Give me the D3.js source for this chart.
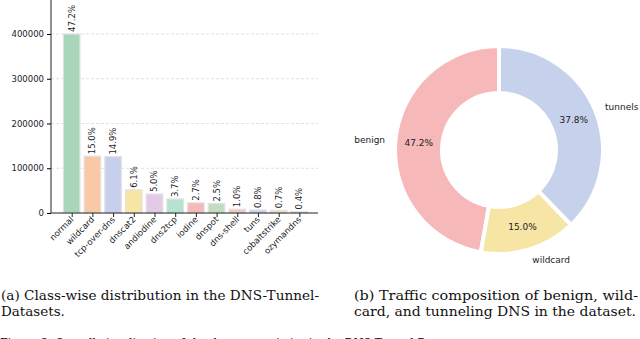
<!DOCTYPE html>
<html>
<head>
<meta charset="utf-8">
<script src="https://cdn.jsdelivr.net/npm/d3@7"></script>
<style>
  body { margin: 0; background: #fff; }
  svg { display: block; }
  .tick text { font-family: "DejaVu Sans", sans-serif; font-size: 8.5px; fill: #222; }
</style>
</head>
<body>
<svg id="chart" width="640" height="339"></svg>
<script>
// bar chart data
const classes = ["normal", "wildcard", "tcp-over-dns", "dnscat2", "andiodine", "dns2tcp",
                 "iodine", "dnspot", "dns-shell", "tuns", "cobaltstrike", "ozymandns"];
const counts = [400000, 127000, 126000, 51700, 42400, 31300, 22900, 21200, 8500, 6800, 5900, 3400];
const shares = ["47.2%", "15.0%", "14.9%", "6.1%", "5.0%", "3.7%", "2.7%", "2.5%", "1.0%", "0.8%", "0.7%", "0.4%"];
const barColors = ["#a9d6bb", "#f9c8a5", "#c6d0ec", "#f7e5a3", "#e3cbe8", "#b5e3d2",
                   "#f6b9b9", "#c1dcc1", "#f6c6c6", "#c6d0ec", "#f0e2b6", "#d8d8d8"];
const yTicks = [0, 100000, 200000, 300000, 400000];

// donut data
const groups = ["benign", "wildcard", "tunnels"];
const groupShares = [47.2, 15.0, 37.8];
const groupColors = ["#f6b8b8", "#f7e5a5", "#c6d1ec"];

const svg = d3.select("#chart");

// ---- (a) bar chart ----
const plotLeft = 51, plotRight = 318, plotTop = 0, plotBottom = 213;

const xScale = d3.scaleLinear().domain([-1, 11.9]).range([plotLeft, plotRight]);
const yScale = d3.scaleLinear().domain([0, 476000]).range([plotBottom, plotTop]);
const barW = xScale(0.8) - xScale(0);

const barChart = svg.append("g");

// grid
barChart.selectAll("line.grid")
    .data(yTicks.slice(1))
    .join("line")
    .attr("class", "grid")
    .attr("x1", plotLeft).attr("x2", plotRight)
    .attr("y1", d => yScale(d)).attr("y2", d => yScale(d))
    .attr("stroke", "#d9d9d9")
    .attr("stroke-width", 0.8)
    .attr("stroke-dasharray", "3,2");

barChart.selectAll("rect")
    .data(counts)
    .join("rect")
    .attr("x", (d, i) => xScale(i) - barW / 2)
    .attr("y", d => yScale(d))
    .attr("width", barW)
    .attr("height", d => plotBottom - yScale(d))
    .attr("fill", (d, i) => barColors[i])
    .attr("stroke", "#e2e2e2")
    .attr("stroke-width", 1.2);

barChart.selectAll("text.pct")
    .data(counts)
    .join("text")
    .attr("class", "pct")
    .attr("transform", (d, i) => `translate(${xScale(i) + 3},${yScale(d) - 2}) rotate(-90)`)
    .attr("font-family", "DejaVu Sans, sans-serif")
    .attr("font-size", 8.5)
    .attr("fill", "#222")
    .text((d, i) => shares[i]);

const leftAxis = d3.axisLeft(yScale).tickValues(yTicks).tickFormat(d3.format("d")).tickSize(4).tickPadding(3);
barChart.append("g")
    .attr("transform", `translate(${plotLeft},0)`)
    .call(leftAxis)
    .call(g => g.select(".domain").attr("stroke", "#222").attr("d", `M0,${plotTop}V${plotBottom}`));

const bottomAxis = d3.axisBottom(xScale).tickValues(d3.range(classes.length))
    .tickFormat(i => classes[i]).tickSize(4);
barChart.append("g")
    .attr("transform", `translate(0,${plotBottom})`)
    .call(bottomAxis)
    .call(g => g.select(".domain").attr("stroke", "#222").attr("d", `M${plotLeft},0H${plotRight}`))
    .call(g => g.selectAll(".tick line").attr("stroke", "#222"))
    .call(g => g.selectAll(".tick text")
        .attr("text-anchor", "end")
        .attr("dy", null)
        .attr("transform", "translate(2,7) rotate(-45)")
        .attr("y", 0).attr("x", 0));

// ---- (b) donut ----
const cx = 499, cy = 150, outerR = 104, innerR = 57;

const pie = d3.pie().sort(null).startAngle(0).endAngle(-2 * Math.PI);
const arcs = pie(groupShares);
const arc = d3.arc().innerRadius(innerR).outerRadius(outerR);
const pctArc = d3.arc().innerRadius(outerR * 0.775).outerRadius(outerR * 0.775);

const donut = svg.append("g").attr("transform", `translate(${cx},${cy})`);

donut.selectAll("path")
    .data(arcs)
    .join("path")
    .attr("d", arc)
    .attr("fill", (d, i) => groupColors[i])
    .attr("stroke", "#fff")
    .attr("stroke-width", 4)
    .attr("stroke-linejoin", "miter");

donut.selectAll("text.pct")
    .data(arcs)
    .join("text")
    .attr("class", "pct")
    .attr("transform", d => `translate(${pctArc.centroid(d)})`)
    .attr("text-anchor", "middle")
    .attr("dy", "0.35em")
    .attr("font-family", "DejaVu Sans, sans-serif")
    .attr("font-size", 9)
    .attr("fill", "#222")
    .text((d, i) => groupShares[i].toFixed(1) + "%");

donut.selectAll("text.lbl")
    .data(arcs)
    .join("text")
    .attr("class", "lbl")
    .each(function (d) {
        const a = (d.startAngle + d.endAngle) / 2;
        const x = Math.sin(a) * outerR * 1.1;
        const y = -Math.cos(a) * outerR * 1.1;
        d3.select(this).attr("x", x).attr("y", y)
            .attr("text-anchor", x < 0 ? "end" : "start");
    })
    .attr("dy", "0.35em")
    .attr("font-family", "DejaVu Sans, sans-serif")
    .attr("font-size", 9)
    .attr("fill", "#222")
    .text((d, i) => groups[i]);

// ---- captions ----
const captions = [
    { x: 1, y: 300, t: "(a) Class-wise distribution in the DNS-Tunnel-", w: 318 },
    { x: 1, y: 316, t: "Datasets." },
    { x: 354, y: 300, t: "(b) Traffic composition of benign, wild-", w: 284 },
    { x: 354, y: 316, t: "card, and tunneling DNS in the dataset.", w: 282 },
    { x: 0, y: 348, t: "Figure 3: Overall visualization of the dataset statistics in the DNS-Tunnel-Datasets.", w: 470 }
];
svg.selectAll("text.caption")
    .data(captions)
    .join("text")
    .attr("class", "caption")
    .attr("x", d => d.x)
    .attr("y", d => d.y)
    .attr("font-family", "DejaVu Serif, serif")
    .attr("font-size", 13.5)
    .attr("fill", "#111")
    .attr("textLength", d => d.w || null)
    .attr("lengthAdjust", "spacingAndGlyphs")
    .text(d => d.t);
</script>
</body>
</html>
